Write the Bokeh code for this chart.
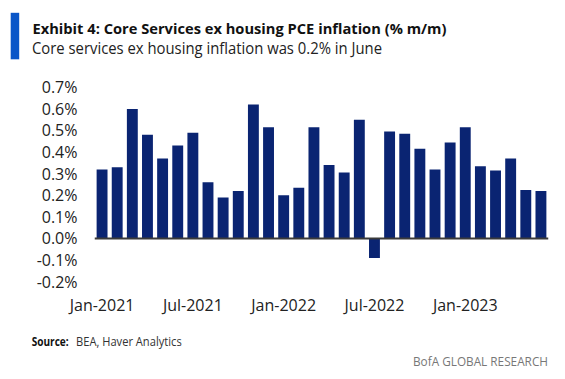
from bokeh.plotting import figure
from bokeh.models import (Range1d, FixedTicker, PrintfTickFormatter, Span, Div,
                          ColumnDataSource)
from bokeh.layouts import column
from bokeh.embed import file_html
from bokeh.resources import INLINE

months = ["Jan-2021", "Feb-2021", "Mar-2021", "Apr-2021", "May-2021", "Jun-2021",
          "Jul-2021", "Aug-2021", "Sep-2021", "Oct-2021", "Nov-2021", "Dec-2021",
          "Jan-2022", "Feb-2022", "Mar-2022", "Apr-2022", "May-2022", "Jun-2022",
          "Jul-2022", "Aug-2022", "Sep-2022", "Oct-2022", "Nov-2022", "Dec-2022",
          "Jan-2023", "Feb-2023", "Mar-2023", "Apr-2023", "May-2023", "Jun-2023"]
values = [0.32, 0.33, 0.60, 0.48, 0.37, 0.43, 0.49, 0.26, 0.19, 0.22,
          0.62, 0.515, 0.20, 0.235, 0.515, 0.34, 0.305, 0.55, -0.09, 0.495,
          0.485, 0.415, 0.32, 0.445, 0.515, 0.335, 0.315, 0.37, 0.225, 0.22]
x_tick_labels = ["Jan-2021", "Jul-2021", "Jan-2022", "Jul-2022", "Jan-2023"]
y_ticks = [-0.2, -0.1, 0.0, 0.1, 0.2, 0.3, 0.4, 0.5, 0.6, 0.7]

title_text = "Exhibit 4: Core Services ex housing PCE inflation (% m/m)"
subtitle_text = "Core services ex housing inflation was 0.2% in June"
source_bold = "Source:"
source_text = "BEA, Haver Analytics"
brand_text = "BofA GLOBAL RESEARCH"

NAVY = "#0a2472"
ACCENT = "#0a56c8"
FONT_CSS = "'Open Sans', sans-serif"
TICKF = "Open Sans"

W = 565
TOP_H, FIG_H, BOT_H = 64, 256, 59
BL, BR, BT, BB = 94, 17, 18, 32

src = ColumnDataSource(data=dict(x=list(range(len(months))), top=values, month=months))

p = figure(width=W, height=FIG_H, output_backend="svg", toolbar_location=None,
           x_range=Range1d(-0.5, len(months) - 0.5),
           y_range=Range1d(-0.2315, 0.7222),
           min_border_left=BL, min_border_right=BR, min_border_top=BT,
           min_border_bottom=BB, margin=0)
p.outline_line_color = None
p.xgrid.visible = False
p.ygrid.visible = False
p.background_fill_color = "white"
p.border_fill_color = "white"

p.vbar(x="x", top="top", bottom=0, width=0.72, source=src,
       fill_color=NAVY, line_color=None)

p.add_layout(Span(location=0, dimension="width", line_color="#3a3a3a", line_width=2))

tick_pos = [months.index(m) for m in x_tick_labels]
p.xaxis.ticker = FixedTicker(ticks=tick_pos)
p.xaxis.major_label_overrides = {i: m for i, m in zip(tick_pos, x_tick_labels)}
p.yaxis.ticker = FixedTicker(ticks=y_ticks)
p.yaxis.formatter = PrintfTickFormatter(format="%.1f%%")

for ax in (p.xaxis, p.yaxis):
    ax.axis_line_color = None
    ax.major_tick_line_color = None
    ax.minor_tick_line_color = None
    ax.major_tick_out = 0
    ax.major_tick_in = 0
    ax.minor_tick_out = 0
    ax.major_label_text_font = TICKF
    ax.major_label_text_font_size = "16px"
    ax.major_label_text_color = "#222222"
p.yaxis.major_label_standoff = 17
p.xaxis.major_label_standoff = 5


def svg_text(x, y, content, length, size, color, weight="normal"):
    style = (f"font-family:{FONT_CSS};font-size:{size}px;font-weight:{weight};"
             f"fill:{color};")
    return (f'<text x="{x}" y="{y}" textLength="{length}" lengthAdjust="spacingAndGlyphs" '
            f'style="{style}">{content}</text>')


top_html = (
    f'<svg xmlns="http://www.w3.org/2000/svg" width="{W}" height="{TOP_H}" style="display:block">'
    f'<rect x="10.7" y="12.8" width="8.5" height="46.5" style="fill:{ACCENT};"/>'
    + svg_text(32.5, 34, title_text, 414, 15, "#111111", weight="bold")
    + svg_text(32, 54, subtitle_text, 350, 16.5, "#222222")
    + '</svg>'
)
bot_html = (
    f'<svg xmlns="http://www.w3.org/2000/svg" width="{W}" height="{BOT_H}" style="display:block">'
    + svg_text(31.7, 25.7, source_bold, 37, 12, "#111111", weight="bold")
    + svg_text(76, 25.7, source_text, 105.7, 13, "#333333")
    + svg_text(413, 46.3, brand_text, 135, 12.5, "#777777")
    + '</svg>'
)

top_div = Div(text=top_html, width=W, height=TOP_H, margin=0)
bot_div = Div(text=bot_html, width=W, height=BOT_H, margin=0)

layout = column(top_div, p, bot_div, spacing=0, margin=0)

open("out.html", "w").write(file_html(layout, INLINE))
